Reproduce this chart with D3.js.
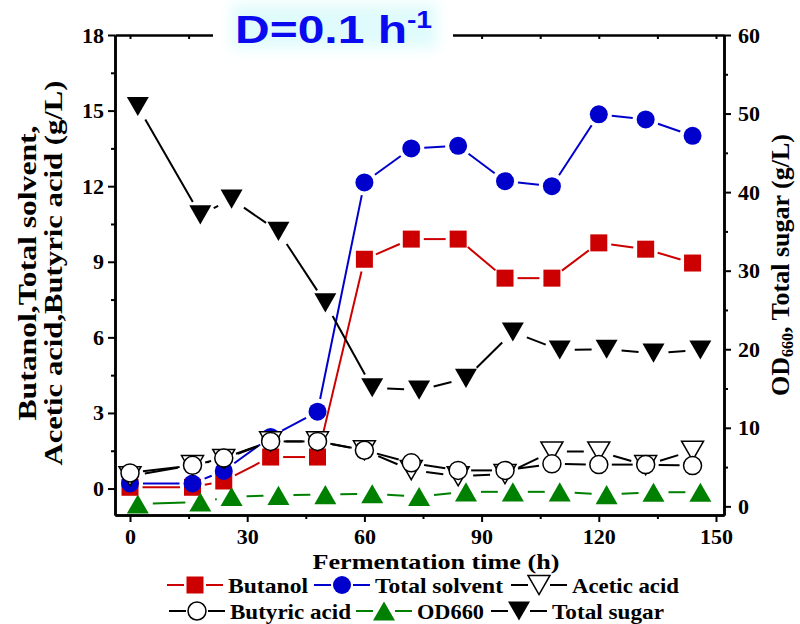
<!DOCTYPE html>
<html>
<head>
<meta charset="utf-8">
<script src="https://cdn.jsdelivr.net/npm/d3@7"></script>
<style>
  body { margin: 0; background: #fff; }
  text { font-family: "Times New Roman", "Liberation Serif", serif; font-weight: bold; }
</style>
</head>
<body>
<svg id="canvas"></svg>
<script>
// sampling times (h); OD660 and total sugar were plotted 2 h later
const hours = [0, 16, 24, 36, 48, 60, 72, 84, 96, 108, 120, 132, 144]
const hoursShifted = [2, 18, 26, 38, 50, 62, 74, 86, 98, 110, 122, 134, 146]

// left axis series (g/L)
const butanol = [0.05, 0.05, 0.3, 1.25, 1.25, 9.1, 9.9, 9.9, 8.35, 8.35, 9.75, 9.5, 8.95]
const totalSolvent = [0.2, 0.2, 0.7, 2.05, 3.05, 12.15, 13.5, 13.6, 12.2, 12.0, 14.85, 14.65, 14.0]
const aceticAcid = [0.49, 0.93, 1.17, 1.87, 1.87, 1.52, 0.73, 0.49, 0.57, 1.47, 1.47, 0.93, 1.5]
const butyricAcid = [0.62, 0.92, 1.21, 1.87, 1.87, 1.52, 1.02, 0.72, 0.72, 0.98, 0.95, 0.95, 0.91]

// right axis series
const od660 = [0.3, 0.55, 1.25, 1.4, 1.5, 1.6, 1.25, 1.85, 1.85, 1.85, 1.5, 1.8, 1.8]
const totalSugar = [50.9, 37.1, 39.1, 35.0, 25.9, 15.1, 14.8, 16.3, 22.2, 19.9, 20.0, 19.5, 19.9]

const xTicks = [0, 30, 60, 90, 120, 150]
const leftTicks = [0, 3, 6, 9, 12, 15, 18]
const rightTicks = [0, 10, 20, 30, 40, 50, 60]

const svg = d3.select('#canvas').attr('width', 800).attr('height', 624)
const plot = { left: 115, right: 724, top: 35, bottom: 515 }

const x = d3.scaleLinear().domain([-3.84, 152.05]).range([plot.left, plot.right])
const yL = d3.scaleLinear().domain([-1.05, 18]).range([plot.bottom, plot.top])
const yR = d3.scaleLinear().domain([-1.1, 60]).range([plot.bottom, plot.top])

const series = [
    { name: 'Butanol', t: hours, v: butanol, y: yL, color: '#cc0000', shape: 'square', fill: '#cc0000', size: 17 },
    { name: 'Total solvent', t: hours, v: totalSolvent, y: yL, color: '#0000cc', shape: 'circle', fill: '#0000cc', size: 18 },
    { name: 'Acetic acid', t: hours, v: aceticAcid, y: yL, color: '#000', shape: 'down', fill: '#fff', size: 22 },
    { name: 'Butyric acid', t: hours, v: butyricAcid, y: yL, color: '#000', shape: 'circle', fill: '#fff', size: 18 },
    { name: 'OD660', t: hoursShifted, v: od660, y: yR, color: '#008000', shape: 'up', fill: '#008000', size: 22 },
    { name: 'Total sugar', t: hoursShifted, v: totalSugar, y: yR, color: '#000', shape: 'down', fill: '#000', size: 22 },
]

// marker outline centred on its bounding box
const markerPath = (shape, s) => {
    const h = s / 2
    const th = s * 0.87 / 2
    if (shape === 'square') return `M${-h},${-h}H${h}V${h}H${-h}Z`
    if (shape === 'circle') return `M${h},0A${h},${h} 0 1,1 ${-h},0A${h},${h} 0 1,1 ${h},0Z`
    if (shape === 'up') return `M0,${-th}L${h},${th}L${-h},${th}Z`
    return `M0,${th}L${h},${-th}L${-h},${-th}Z`
}

// connecting segments stop short of the symbols, like the original plot
const segments = s => {
    const pts = s.t.map((t, i) => [x(t), s.y(s.v[i])])
    const gap = s.size / 2 + 4
    return d3.pairs(pts).map(([a, b]) => {
        const dx = b[0] - a[0], dy = b[1] - a[1], d = Math.hypot(dx, dy)
        if (d <= gap * 2) return null
        return [a[0] + dx * gap / d, a[1] + dy * gap / d, b[0] - dx * gap / d, b[1] - dy * gap / d]
    }).filter(Boolean)
}

// axes
const styleAxis = (g, size = 22) => {
    g.select('.domain').attr('stroke-width', 2.5)
    g.selectAll('.tick line').attr('stroke-width', 2)
    g.selectAll('.tick text').attr('font-size', size).attr('fill', '#000')
        .attr('font-family', '"Times New Roman", "Liberation Serif", serif').attr('font-weight', 'bold')
}

const minor = (ticks) => d3.pairs(ticks).map(([a, b]) => (a + b) / 2)

svg.append('g').attr('transform', `translate(0,${plot.bottom})`)
    .call(d3.axisBottom(x).tickValues(minor(xTicks)).tickSize(4).tickSizeOuter(0).tickFormat(''))
    .call(styleAxis)
svg.append('g').attr('transform', `translate(0,${plot.bottom})`)
    .call(d3.axisBottom(x).tickValues(xTicks).tickSize(7).tickPadding(6).tickSizeOuter(0))
    .call(styleAxis)

svg.append('g').attr('transform', `translate(0,${plot.top})`)
    .call(d3.axisTop(x).tickValues(xTicks.concat(minor(xTicks))).tickSize(-4).tickSizeOuter(0).tickFormat(''))
    .call(styleAxis)

svg.append('g').attr('transform', `translate(${plot.left},0)`)
    .call(d3.axisLeft(yL).tickValues(minor(leftTicks)).tickSize(4).tickSizeOuter(0).tickFormat(''))
    .call(styleAxis)
svg.append('g').attr('transform', `translate(${plot.left},0)`)
    .call(d3.axisLeft(yL).tickValues(leftTicks).tickSize(7).tickPadding(4).tickSizeOuter(0))
    .call(styleAxis)

svg.append('g').attr('transform', `translate(${plot.right},0)`)
    .call(d3.axisRight(yR).tickValues(minor(rightTicks)).tickSize(4).tickSizeOuter(0).tickFormat(''))
    .call(styleAxis)
svg.append('g').attr('transform', `translate(${plot.right},0)`)
    .call(d3.axisRight(yR).tickValues(rightTicks).tickSize(7).tickPadding(7).tickSizeOuter(0))
    .call(styleAxis)

// data
series.forEach(s => {
    const g = svg.append('g')
    g.selectAll('line').data(segments(s)).enter().append('line')
        .attr('x1', d => d[0]).attr('y1', d => d[1])
        .attr('x2', d => d[2]).attr('y2', d => d[3])
        .attr('stroke', s.color).attr('stroke-width', 2)
    g.selectAll('path').data(s.v).enter().append('path')
        .attr('d', markerPath(s.shape, s.size))
        .attr('transform', (d, i) => `translate(${x(s.t[i])},${s.y(d)})`)
        .attr('fill', s.fill)
        .attr('stroke', s.fill === '#fff' ? '#000' : 'none')
        .attr('stroke-width', 1.5)
})

// axis titles
svg.append('text').attr('x', 436).attr('y', 569).attr('text-anchor', 'middle')
    .attr('font-size', 21).attr('textLength', 247).attr('lengthAdjust', 'spacingAndGlyphs')
    .text('Fermentation time (h)')

const leftTitle = [
    { text: 'Butanol,Total solvent,', x: 36, len: 295 },
    { text: 'Acetic acid,Butyric acid (g/L)', x: 62, len: 385 },
]
leftTitle.forEach(l => {
    svg.append('text').attr('transform', `translate(${l.x},273) rotate(-90)`)
        .attr('text-anchor', 'middle').attr('font-size', 25)
        .attr('textLength', l.len).attr('lengthAdjust', 'spacingAndGlyphs')
        .text(l.text)
})

const rightTitle = svg.append('text').attr('transform', 'translate(789,265) rotate(-90)')
    .attr('text-anchor', 'middle').attr('font-size', 26)
rightTitle.append('tspan').text('OD')
rightTitle.append('tspan').attr('font-size', 16).attr('dy', 4).text('660')
rightTitle.append('tspan').attr('dy', -4).text(', Total sugar (g/L)')

// title with its glow box over the top axis
const defs = svg.append('defs')
defs.append('filter').attr('id', 'glow').attr('x', '-20%').attr('y', '-50%').attr('width', '140%').attr('height', '200%')
    .append('feGaussianBlur').attr('stdDeviation', 7)
svg.append('rect').attr('x', 213).attr('y', 0).attr('width', 240).attr('height', 52).attr('fill', '#fff')
svg.append('rect').attr('x', 232).attr('y', 4).attr('width', 205).attr('height', 44)
    .attr('fill', '#e0fbfb').attr('filter', 'url(#glow)')
const title = svg.append('text').attr('transform', 'translate(235,43) scale(1.23,1)')
    .attr('font-size', 39).attr('fill', '#0a0af0')
    .style('font-family', '"Liberation Sans", Arial, sans-serif')
title.append('tspan').text('D=0.1 h')
title.append('tspan').attr('font-size', 23).attr('dy', -15).text('-1')

// legend: short line pieces either side of the symbol
const legendPos = [
    { x: 167, y: 585, len: 80 }, { x: 314, y: 585, len: 128 }, { x: 511, y: 585, len: 107 },
    { x: 169, y: 611, len: 121 }, { x: 356, y: 611, len: 67 }, { x: 491, y: 611, len: 112 },
]
series.forEach((s, i) => {
    const p = legendPos[i]
    const g = svg.append('g').attr('transform', `translate(${p.x},${p.y})`)
    g.selectAll('line').data([[0, 17], [39, 56]]).enter().append('line')
        .attr('x1', d => d[0]).attr('x2', d => d[1])
        .attr('stroke', s.color).attr('stroke-width', 2)
    g.append('path').attr('d', markerPath(s.shape, s.size))
        .attr('transform', 'translate(28,0)')
        .attr('fill', s.fill).attr('stroke', s.fill === '#fff' ? '#000' : 'none').attr('stroke-width', 1.5)
    g.append('text').attr('x', 61).attr('y', 8).attr('font-size', 21)
        .attr('textLength', p.len).attr('lengthAdjust', 'spacingAndGlyphs').text(s.name)
})
</script>
</body>
</html>
